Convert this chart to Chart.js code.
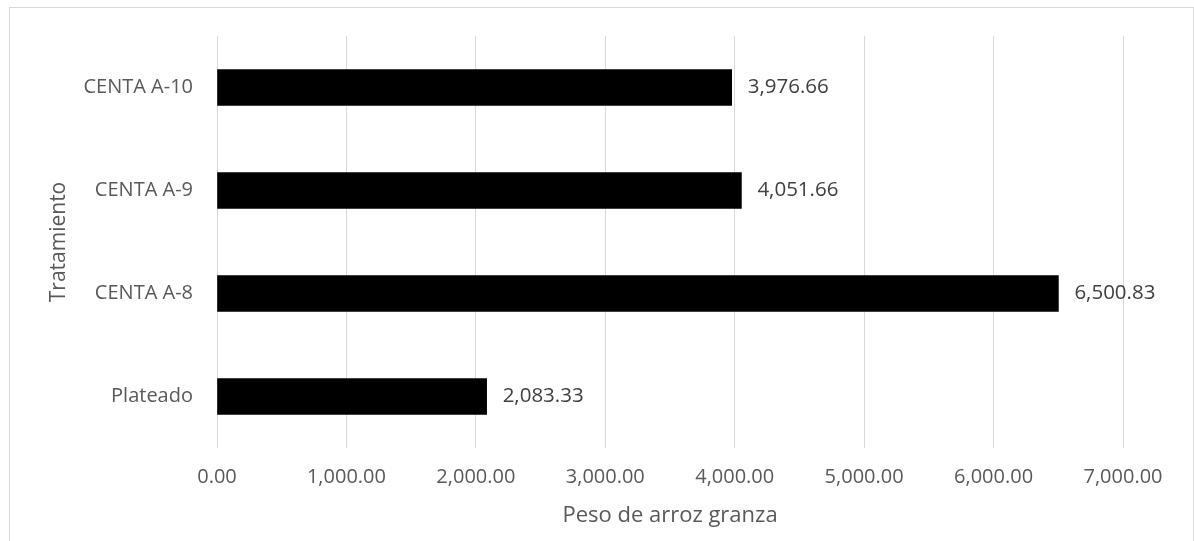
<!DOCTYPE html>
<html>
<head>
<meta charset="utf-8">
<script src="https://cdn.jsdelivr.net/npm/chart.js@4/dist/chart.umd.min.js"></script>
<style>
  html, body { margin: 0; padding: 0; background: #fff; }
  #wrap { position: relative; width: 1194px; height: 541px; overflow: hidden; }
  #frame { position: absolute; left: 9px; top: 7px; width: 1183px; height: 540px; border: 1px solid #d9d9d9; pointer-events: none; }
  canvas { position: absolute; left: 0; top: 0; }
</style>
</head>
<body>
<div id="wrap">
  <canvas id="c" width="1194" height="541"></canvas>
  <div id="frame"></div>
</div>
<script>
const categories = ["CENTA A-10", "CENTA A-9", "CENTA A-8", "Plateado"];
const pesoValues = [3976.66, 4051.66, 6500.83, 2083.33];
const xTickValues = [0, 1000, 2000, 3000, 4000, 5000, 6000, 7000];
const xTitle = "Peso de arroz granza";
const yTitle = "Tratamiento";

const fmt = v => Number(v).toLocaleString('en-US', {minimumFractionDigits: 2, maximumFractionDigits: 2});
const FONT = "'Open Sans', 'DejaVu Sans', sans-serif";

const dataLabels = {
  id: 'dataLabels',
  afterDatasetsDraw(chart) {
    const ctx = chart.ctx;
    const meta = chart.getDatasetMeta(0);
    ctx.save();
    ctx.font = "20.5px " + FONT;
    ctx.fillStyle = '#404040';
    ctx.textAlign = 'left';
    ctx.textBaseline = 'middle';
    meta.data.forEach((bar, i) => {
      ctx.fillText(fmt(chart.data.datasets[0].data[i]), bar.x + 16, bar.y);
    });
    ctx.restore();
  }
};

new Chart(document.getElementById('c'), {
  type: 'bar',
  data: {
    labels: categories,
    datasets: [{
      data: pesoValues,
      backgroundColor: '#000000',
      borderWidth: 0,
      barThickness: 36
    }]
  },
  options: {
    indexAxis: 'y',
    responsive: false,
    animation: false,
    layout: { padding: { top: 35, right: 71, left: 0, bottom: 0 } },
    plugins: { legend: { display: false }, tooltip: { enabled: false } },
    scales: {
      x: {
        min: 0, max: 7000,
        afterBuildTicks(scale) { scale.ticks = xTickValues.map(v => ({ value: v })); },
        afterFit(scale) { scale.height = 93; },
        grid: { color: '#d9d9d9', lineWidth: 1, drawTicks: false },
        border: { display: false },
        ticks: { color: '#595959', font: { family: FONT, size: 20 }, padding: 17, maxRotation: 0, callback: v => fmt(v) },
        title: { display: true, text: xTitle, color: '#595959', font: { family: FONT, size: 22 }, padding: { top: 0, bottom: 12 } }
      },
      y: {
        afterFit(scale) { scale.width = 217; },
        grid: { display: false, drawTicks: false },
        border: { display: false },
        ticks: { color: '#595959', font: { family: FONT, size: 20 }, padding: 24 },
        title: { display: true, text: yTitle, color: '#595959', font: { family: FONT, size: 21 }, padding: { top: 46, bottom: 0 } }
      }
    }
  },
  plugins: [dataLabels]
});
</script>
</body>
</html>
